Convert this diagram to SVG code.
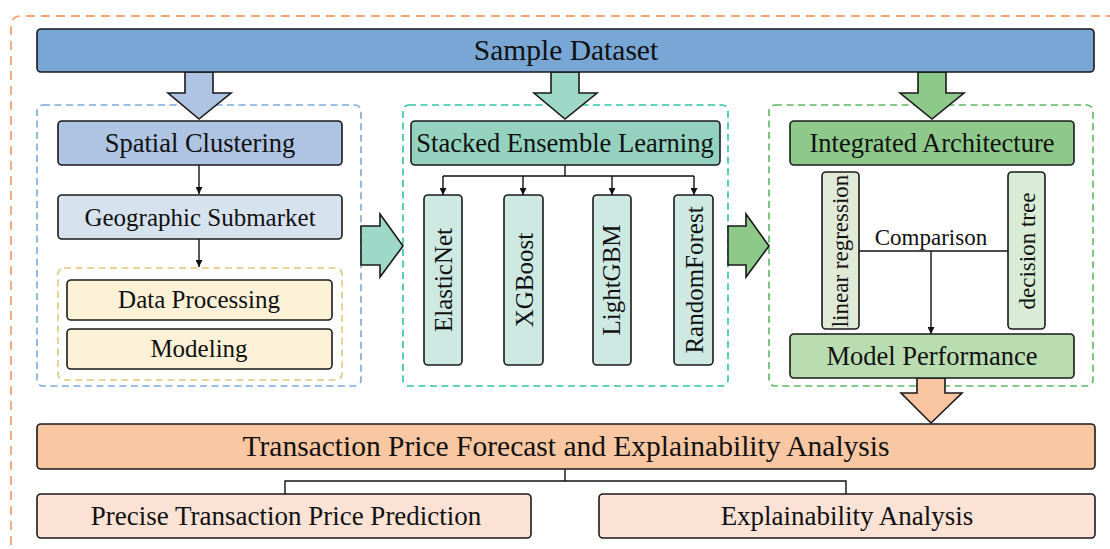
<svg xmlns="http://www.w3.org/2000/svg" width="1110" height="549" viewBox="0 0 1110 549">
  <defs>
    <marker id="tri" viewBox="0 0 10 10" refX="10" refY="5" markerWidth="7" markerHeight="7" markerUnits="userSpaceOnUse" orient="auto">
      <path d="M0,0 L10,5 L0,10 z" fill="#111"/>
    </marker>
    <style>
      text { font-family: "Liberation Serif", "Times New Roman", serif; fill: #111; text-anchor: middle; }
      .box { stroke: #1a1a1a; stroke-width: 1.6; }
      .grp { fill: none; stroke-width: 1.6; stroke-dasharray: 7 4.5; }
      .big { fill: none; stroke: #f2a577; stroke-width: 1.8; stroke-dasharray: 9 6; }
      .fat { stroke: #1a1a1a; stroke-width: 1.6; stroke-linejoin: miter; }
      .wire { fill: none; stroke: #111; stroke-width: 1.4; }
      .t29 { font-size: 29.5px; }
      .t26 { font-size: 26.5px; }
      .t25 { font-size: 25px; }
      .t27 { font-size: 27px; }
      .t23 { font-size: 23px; }
    </style>
  </defs>

  <rect width="1110" height="549" fill="#ffffff"/>

  <!-- outer frame, open to the right and bottom -->
  <path class="big" d="M11,560 V26 Q11,16 21,16 H1120"/>

  <!-- group frames -->
  <rect class="grp" x="37" y="105" width="324" height="281" rx="6" stroke="#79a9dc"/>
  <rect class="grp" x="58" y="268" width="284" height="112" rx="6" stroke="#e6c57c"/>
  <rect class="grp" x="403" y="105" width="325" height="281" rx="6" stroke="#2fc3a2"/>
  <rect class="grp" x="769" y="105" width="324" height="281" rx="6" stroke="#5db862"/>

  <!-- block arrows -->
  <g id="flow-arrows">
    <polygon class="fat" fill="#aec4e2" points="185,72 213,72 213,93 231,93 199,119 168,93 185,93"/>
    <polygon class="fat" fill="#9dd9c6" points="551,72 579,72 579,93 597,93 565,119 534,93 551,93"/>
    <polygon class="fat" fill="#8dca89" points="918,72 946,72 946,93 964,93 932,119 900,93 918,93"/>
    <polygon class="fat" fill="#f9c4a0" points="917,378 945,378 945,393 962,393 931,423 901,393 917,393"/>
    <polygon class="fat" fill="#9dd9c6" points="361,226 380,226 380,214 403,246 380,277 380,265 361,265"/>
    <polygon class="fat" fill="#8dca89" points="728,226 746,226 746,214 769,246 746,277 746,265 728,265"/>
  </g>

  <!-- connectors -->
  <g id="connectors">
    <line class="wire" x1="199" y1="165" x2="199" y2="194" marker-end="url(#tri)"/>
    <line class="wire" x1="199" y1="239" x2="199" y2="267" marker-end="url(#tri)"/>
    <path class="wire" d="M565,165 V176 M443,176 H694"/>
    <line class="wire" x1="443" y1="176" x2="443" y2="195" marker-end="url(#tri)"/>
    <line class="wire" x1="523" y1="176" x2="523" y2="195" marker-end="url(#tri)"/>
    <line class="wire" x1="612" y1="176" x2="612" y2="195" marker-end="url(#tri)"/>
    <line class="wire" x1="694" y1="176" x2="694" y2="195" marker-end="url(#tri)"/>
    <line class="wire" x1="859" y1="251" x2="1008" y2="251"/>
    <line class="wire" x1="931" y1="251" x2="931" y2="334" marker-end="url(#tri)"/>
    <path class="wire" d="M565,469 V481 M285,494 V481 H846 V494"/>
  </g>

  <!-- nodes -->
  <g id="sample-dataset">
    <rect class="box" x="37" y="29" width="1057" height="43" rx="4" fill="#78a6d5"/>
    <text class="t29" x="566" y="60">Sample Dataset</text>
  </g>

  <g id="spatial-clustering">
    <rect class="box" x="58" y="121" width="284" height="44" rx="4" fill="#aec4e2"/>
    <text class="t26" x="200" y="152">Spatial Clustering</text>
  </g>
  <g id="geographic-submarket">
    <rect class="box" x="58" y="195" width="284" height="44" rx="4" fill="#d6e3ef"/>
    <text class="t25" x="200" y="226">Geographic Submarket</text>
  </g>
  <g id="data-processing">
    <rect class="box" x="67" y="280" width="265" height="40" rx="4" fill="#fdf1d7"/>
    <text class="t25" x="199" y="308">Data Processing</text>
  </g>
  <g id="modeling">
    <rect class="box" x="67" y="329" width="265" height="40" rx="4" fill="#fdf1d7"/>
    <text class="t25" x="199" y="357">Modeling</text>
  </g>

  <g id="stacked-ensemble">
    <rect class="box" x="411" y="121" width="309" height="44" rx="4" fill="#94d2bf"/>
    <text class="t26" x="565" y="152">Stacked Ensemble Learning</text>
  </g>
  <g id="elasticnet">
    <rect class="box" x="424" y="195" width="38" height="170" rx="4" fill="#cde9e1"/>
    <text class="t25" transform="translate(443,280) rotate(-90)" x="0" y="9">ElasticNet</text>
  </g>
  <g id="xgboost">
    <rect class="box" x="504" y="195" width="39" height="170" rx="4" fill="#cde9e1"/>
    <text class="t25" transform="translate(523.5,280) rotate(-90)" x="0" y="9">XGBoost</text>
  </g>
  <g id="lightgbm">
    <rect class="box" x="593" y="195" width="38" height="170" rx="4" fill="#cde9e1"/>
    <text class="t25" transform="translate(612,280) rotate(-90)" x="0" y="8">LightGBM</text>
  </g>
  <g id="randomforest">
    <rect class="box" x="674" y="195" width="39" height="170" rx="4" fill="#cde9e1"/>
    <text class="t25" transform="translate(693.5,280) rotate(-90)" x="0" y="9">RandomForest</text>
  </g>

  <g id="integrated-architecture">
    <rect class="box" x="790" y="121" width="284" height="44" rx="4" fill="#8ec98b"/>
    <text class="t26" x="932" y="152">Integrated Architecture</text>
  </g>
  <g id="linear-regression">
    <rect class="box" x="822" y="172" width="37" height="157" rx="4" fill="#e1e9d7"/>
    <text class="t23" transform="translate(840.5,251) rotate(-90)" x="0" y="7">linear regression</text>
  </g>
  <g id="decision-tree">
    <rect class="box" x="1008" y="172" width="37" height="157" rx="4" fill="#d9edd6"/>
    <text class="t23" transform="translate(1026.5,251) rotate(-90)" x="0" y="8.5">decision tree</text>
  </g>
  <g id="comparison-label">
    <text class="t23" x="931" y="245">Comparison</text>
  </g>
  <g id="model-performance">
    <rect class="box" x="790" y="334" width="284" height="44" rx="4" fill="#badcb1"/>
    <text class="t26" x="932" y="365">Model Performance</text>
  </g>

  <g id="forecast">
    <rect class="box" x="37" y="424" width="1058" height="45" rx="4" fill="#fac7a3"/>
    <text class="t29" x="566" y="456">Transaction Price Forecast and Explainability Analysis</text>
  </g>
  <g id="price-prediction">
    <rect class="box" x="37" y="494" width="494" height="44" rx="4" fill="#fde3d6"/>
    <text class="t27" x="286" y="525">Precise Transaction Price Prediction</text>
  </g>
  <g id="explainability">
    <rect class="box" x="599" y="494" width="496" height="44" rx="4" fill="#fde3d6"/>
    <text class="t27" x="847" y="525">Explainability Analysis</text>
  </g>
</svg>
